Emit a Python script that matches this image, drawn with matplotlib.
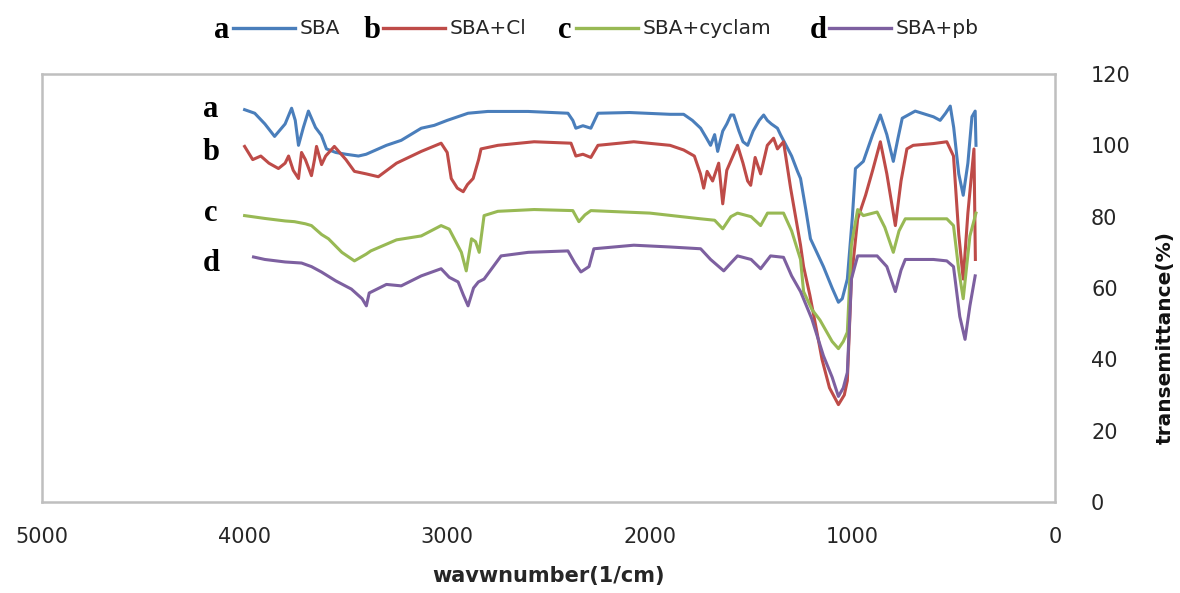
import matplotlib
matplotlib.use("Agg")
import matplotlib.pyplot as plt
from matplotlib.lines import Line2D

# ---------------- data ----------------
wn_sba = [4000, 3950, 3900, 3852, 3800, 3768, 3750, 3734, 3710, 3685, 3650, 3621, 3596, 3550,
          3500, 3438, 3400, 3300, 3227, 3128, 3064, 3000, 2897, 2800, 2600, 2404, 2380, 2365,
          2330, 2291, 2256, 2100, 1900, 1833, 1790, 1749, 1720, 1700, 1680, 1665, 1640, 1620,
          1600, 1586, 1560, 1540, 1517, 1490, 1460, 1438, 1420, 1400, 1370, 1355, 1300, 1271,
          1256, 1230, 1207, 1143, 1100, 1069, 1050, 1025, 1000, 985, 946, 900, 862, 830, 798,
          775, 754, 690, 600, 567, 540, 517, 500, 475, 453, 430, 410, 394, 390]
t_sba = [110, 109, 106, 102.5, 106, 110.4, 107, 100, 105, 109.6, 105, 102.8, 99, 98,
         97.5, 97, 97.5, 100, 101.4, 104.8, 105.6, 107, 109, 109.5, 109.5, 109, 107, 104.8,
         105.5, 104.8, 109, 109.2, 108.7, 108.7, 107, 104.8, 102, 100, 103, 98.3, 104, 106,
         108.5, 108.5, 104, 101, 100, 104, 107, 108.5, 107, 106, 104.8, 103, 97, 92.7,
         90.7, 82, 73.8, 66, 60, 56, 57, 62.5, 80, 93.5, 95.5, 103, 108.5, 103, 95.5,
         102, 107.6, 109.6, 108, 107, 109, 111, 105, 92, 86, 95, 108, 109.6, 100]

wn_cl = [4000, 3960, 3920, 3880, 3833, 3800, 3783, 3760, 3734, 3719, 3700, 3670, 3655, 3645,
         3620, 3600, 3557, 3500, 3458, 3400, 3340, 3250, 3128, 3030, 3000, 2980, 2950, 2921,
         2900, 2872, 2845, 2833, 2750, 2571, 2389, 2365, 2330, 2291, 2256, 2079, 1900, 1833,
         1780, 1750, 1734, 1717, 1690, 1660, 1640, 1620, 1567, 1540, 1517, 1502, 1480, 1453,
         1420, 1389, 1370, 1340, 1305, 1256, 1241, 1210, 1178, 1150, 1113, 1069, 1040, 1025,
         1005, 974, 935, 900, 862, 830, 788, 760, 731, 700, 600, 534, 501, 475, 453, 430,
         400, 393]
t_cl = [99.7, 96, 97, 95, 93.5, 95, 97, 93, 90.7, 98, 96, 91.5, 96, 99.7,
        94.6, 97, 99.7, 96, 92.7, 92, 91.2, 95, 98.3, 100.6, 98, 90.7, 88, 87,
        89, 90.7, 96, 99, 100, 101, 100.6, 97, 97.5, 96.6, 100, 101, 100, 98.7,
        97, 92, 88, 92.7, 90, 95, 83.6, 93, 100, 95, 90, 88.8, 96.6, 92,
        100, 102, 99, 101, 88, 72, 66, 58, 48.5, 40, 32, 27.3, 30, 34,
        62.5, 79.4, 86, 93, 101, 92, 77.5, 90, 99, 100, 100.5, 101, 97, 75, 62.5, 81,
        99, 68]

wn_cyc = [4000, 3900, 3800, 3754, 3700, 3670, 3620, 3586, 3520, 3458, 3400, 3377, 3250, 3128,
          3030, 2990, 2965, 2930, 2906, 2880, 2860, 2842, 2818, 2750, 2571, 2380, 2350, 2320,
          2291, 2000, 1749, 1680, 1640, 1600, 1567, 1500, 1453, 1419, 1340, 1300, 1256, 1241,
          1200, 1160, 1100, 1069, 1045, 1025, 1005, 974, 946, 878, 840, 798, 770, 739, 600,
          534, 501, 475, 453, 420, 390]
t_cyc = [80.3, 79.5, 78.8, 78.6, 78, 77.5, 75, 73.8, 70, 67.6, 69.5, 70.4, 73.5, 74.6,
         77.5, 76.5, 73.8, 70, 64.8, 73.8, 73, 70, 80.3, 81.5, 82, 81.7, 78.6, 80.5,
         81.7, 81, 79.4, 79, 76.6, 80, 81, 80, 77.5, 81, 81, 76, 68, 59,
         54, 51, 45, 43, 45, 47.6, 72, 82, 80.3, 81.3, 77, 70, 76, 79.4, 79.4,
         79.4, 77.5, 65, 57, 74.6, 81]

wn_pb = [3956, 3900, 3800, 3719, 3670, 3621, 3550, 3473, 3420, 3399, 3385, 3300, 3227, 3128,
         3030, 2990, 2946, 2920, 2897, 2870, 2846, 2818, 2734, 2600, 2404, 2370, 2340, 2300,
         2276, 2079, 1900, 1749, 1700, 1635, 1600, 1567, 1500, 1453, 1404, 1340, 1300, 1256,
         1200, 1143, 1100, 1069, 1045, 1025, 1005, 974, 878, 830, 788, 760, 739, 600, 534,
         501, 470, 444, 420, 394]
t_pb = [68.7, 68, 67.3, 67, 66, 64.5, 62, 59.7, 57, 55, 58.6, 61, 60.6, 63.4,
        65.4, 63, 61.7, 58, 55, 60, 61.7, 62.5, 69, 70, 70.4, 67, 64.5, 66,
        71, 72, 71.5, 71, 68, 64.8, 67, 69, 68, 65.4, 69, 68.6, 63.4, 59,
        51.3, 41, 35, 29.6, 32, 36.3, 62.5, 69, 69, 66, 59, 65, 68, 68, 67.6,
        66, 52, 45.6, 55, 63.4]

series_letters = ["a", "b", "c", "d"]
series_names = ["SBA", "SBA+Cl", "SBA+cyclam", "SBA+pb"]
x_ticks = [5000, 4000, 3000, 2000, 1000, 0]
y_ticks = [0, 20, 40, 60, 80, 100, 120]

# ---------------- styling ----------------
colors = ["#4A7EBB", "#BE4B48", "#98B954", "#7D60A0"]
tick_font = "DejaVu Sans"
letter_font = "Liberation Serif"
txt_color = "#262626"

fig = plt.figure(figsize=(11.8, 5.93), dpi=100)
ax = fig.add_axes([42/1180, 1 - 502/593, (1055-42)/1180, (502-74)/593])

all_wn = [wn_sba, wn_cl, wn_cyc, wn_pb]
all_t = [t_sba, t_cl, t_cyc, t_pb]
for wn, t, c in zip(all_wn, all_t, colors):
    ax.plot(wn, t, color=c, lw=2.2, solid_joinstyle="round")

ax.set_xlim(5000, 0)
ax.set_ylim(0, 120)
ax.set_xticks(x_ticks)
ax.set_yticks(y_ticks)
ax.yaxis.tick_right()
ax.tick_params(axis="both", length=0, labelsize=15, labelcolor=txt_color)
ax.tick_params(axis="x", pad=18)
ax.tick_params(axis="y", pad=26)
for lab in ax.get_xticklabels() + ax.get_yticklabels():
    lab.set_fontfamily(tick_font)
for s in ax.spines.values():
    s.set_color("#BFBFBF")
    s.set_linewidth(1.8)

ax.set_xlabel("wavwnumber(1/cm)", fontsize=15, fontweight="bold",
              fontfamily=tick_font, labelpad=14, color=txt_color)
fig.text(1165/1180, 1 - 338/593, "transemittance(%)", rotation=90, fontsize=14.5,
         fontweight="bold", fontfamily=tick_font, ha="center", va="center",
         color="#111111")

# curve letters on the left
letter_pos_y = [110, 98, 81, 67]
for letter, yv in zip(series_letters, letter_pos_y):
    ax.text(4165, yv, letter, fontsize=22, fontweight="bold",
            fontfamily=letter_font, ha="center", va="center")

# custom legend on top
leg_x = [222/1180, 372/1180, 565/1180, 818/1180]
leg_y = 1 - 30/593
for lx, letter, name, c in zip(leg_x, series_letters, series_names, colors):
    fig.text(lx, leg_y, letter, fontsize=22, fontweight="bold",
             fontfamily=letter_font, ha="center", va="center")
    fig.add_artist(Line2D([lx + 11/1180, lx + 73/1180], [leg_y + 2/593, leg_y + 2/593],
                          color=c, lw=2.4))
    fig.text(lx + 78/1180, leg_y + 2/593, name, fontsize=14.5,
             fontfamily=tick_font, ha="left", va="center", color=txt_color)

fig.savefig("out.png", dpi=100)
